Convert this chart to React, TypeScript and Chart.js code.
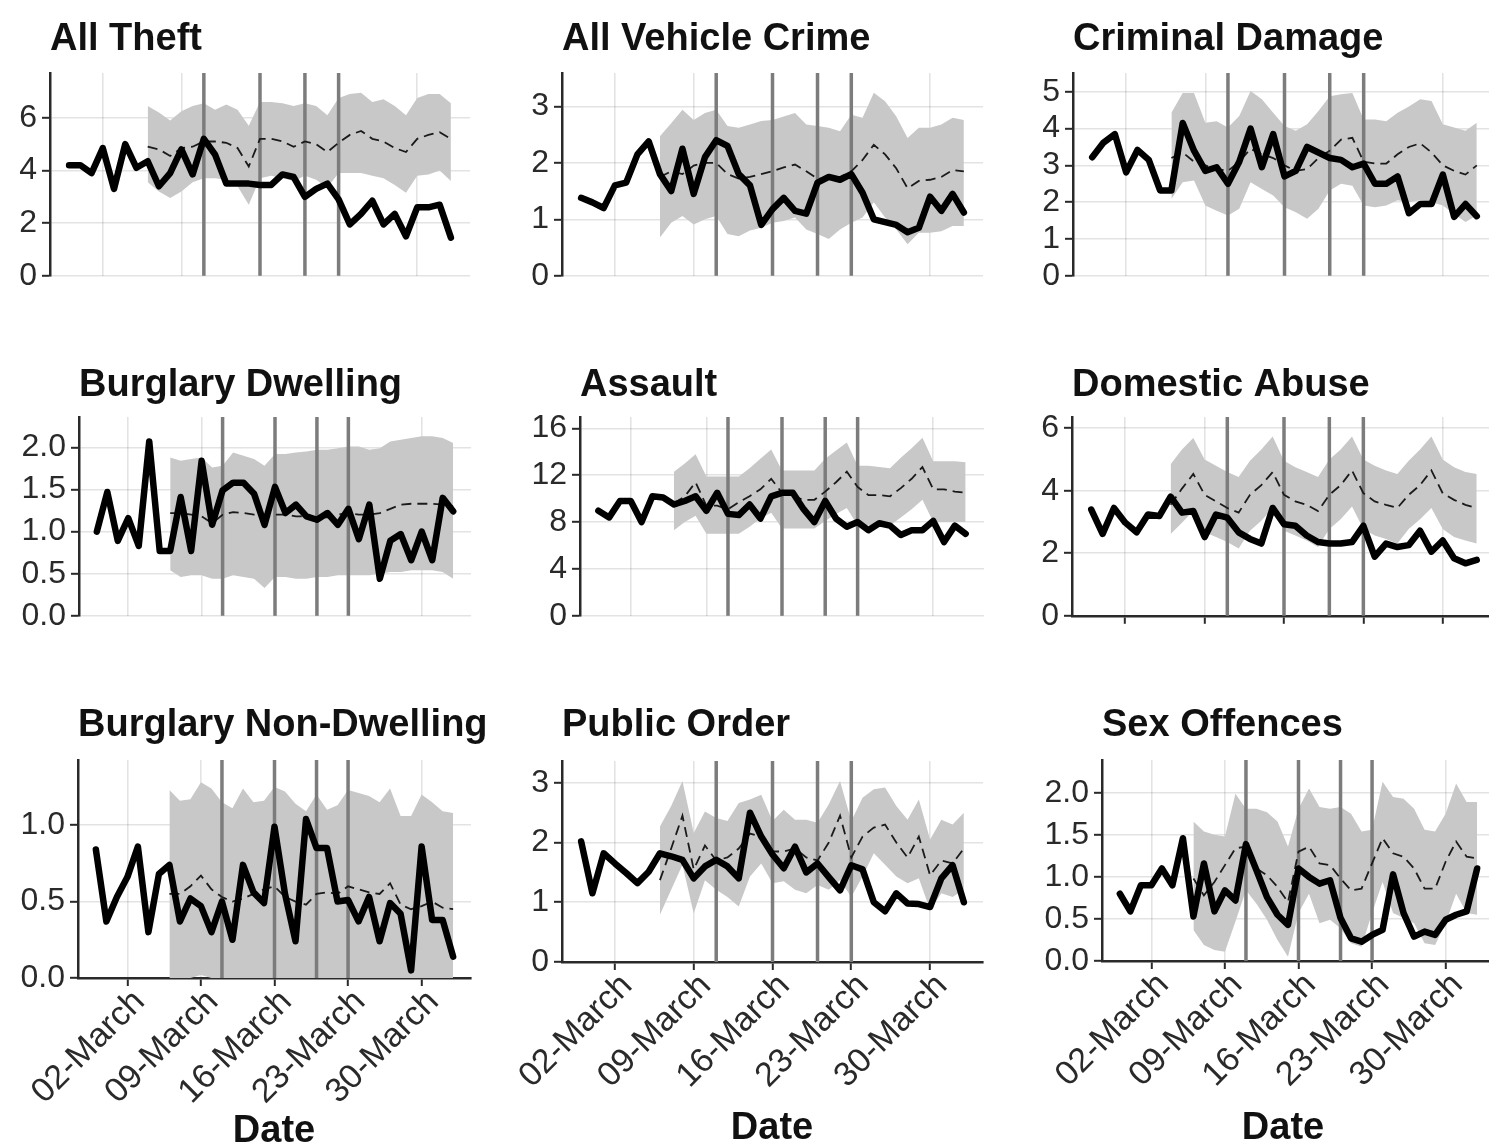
import React, { useEffect, useRef } from "react";
import { Chart, registerables } from "chart.js";

Chart.register(...registerables);

// ---------------- DATA ----------------
const dates = [
  "2020-02-28", "2020-02-29", "2020-03-01", "2020-03-02", "2020-03-03", "2020-03-04", "2020-03-05",
  "2020-03-06", "2020-03-07", "2020-03-08", "2020-03-09", "2020-03-10", "2020-03-11", "2020-03-12",
  "2020-03-13", "2020-03-14", "2020-03-15", "2020-03-16", "2020-03-17", "2020-03-18", "2020-03-19",
  "2020-03-20", "2020-03-21", "2020-03-22", "2020-03-23", "2020-03-24", "2020-03-25", "2020-03-26",
  "2020-03-27", "2020-03-28", "2020-03-29", "2020-03-30", "2020-03-31", "2020-04-01", "2020-04-02",
];
const baselineStart = "2020-03-06";
const interventionDates = ["2020-03-11", "2020-03-16", "2020-03-20", "2020-03-23"];
const xTickDates = ["2020-03-02", "2020-03-09", "2020-03-16", "2020-03-23", "2020-03-30"];
const xTickLabels = ["02-March", "09-March", "16-March", "23-March", "30-March"];
const xAxisTitle = "Date";

const titles = [
  "All Theft", "All Vehicle Crime", "Criminal Damage",
  "Burglary Dwelling", "Assault", "Domestic Abuse",
  "Burglary Non-Dwelling", "Public Order", "Sex Offences",
];

// All Theft
const theftObs = [4.2, 4.2, 3.9, 4.85, 3.3, 5.0, 4.1, 4.35, 3.4, 3.9, 4.8, 3.85, 5.2, 4.6, 3.5, 3.5, 3.5, 3.45, 3.45, 3.85, 3.75, 3.0, 3.3, 3.5, 2.9, 1.95, 2.35, 2.85, 1.95, 2.35, 1.5, 2.6, 2.6, 2.7, 1.45];
const theftExp = [4.9, 4.8, 4.55, 4.85, 4.9, 5.1, 5.1, 5.05, 4.85, 4.15, 5.2, 5.2, 5.1, 4.9, 5.1, 5.0, 4.7, 5.05, 5.35, 5.5, 5.2, 5.1, 4.85, 4.7, 5.2, 5.35, 5.45, 5.2];
const theftHi = [6.45, 6.2, 5.9, 6.25, 6.45, 6.55, 6.3, 6.5, 6.3, 5.7, 6.6, 6.6, 6.55, 6.45, 6.55, 6.45, 6.1, 6.75, 6.9, 6.95, 6.6, 6.7, 6.45, 6.1, 6.75, 6.9, 6.9, 6.55];
const theftLo = [3.55, 3.2, 2.95, 3.2, 3.55, 3.7, 3.7, 3.65, 3.4, 2.7, 3.7, 3.8, 3.7, 3.6, 3.8, 3.65, 3.35, 3.9, 3.9, 3.9, 3.8, 3.7, 3.45, 3.15, 3.8, 3.85, 4.0, 3.6];
const theftYTicks = [0, 2, 4, 6];

// All Vehicle Crime
const vehicleObs = [1.38, 1.3, 1.2, 1.6, 1.65, 2.15, 2.38, 1.8, 1.5, 2.25, 1.45, 2.1, 2.4, 2.3, 1.8, 1.6, 0.9, 1.18, 1.38, 1.15, 1.1, 1.65, 1.75, 1.7, 1.8, 1.47, 1.0, 0.95, 0.9, 0.77, 0.85, 1.4, 1.15, 1.45, 1.12];
const vehicleExp = [1.75, 1.85, 1.8, 1.95, 2.0, 2.0, 1.8, 1.72, 1.75, 1.8, 1.85, 1.92, 1.97, 1.85, 1.72, 1.72, 1.75, 1.85, 2.05, 2.32, 2.15, 1.9, 1.55, 1.68, 1.7, 1.75, 1.87, 1.85];
const vehicleHi = [2.47, 2.7, 2.94, 2.76, 2.88, 2.94, 2.65, 2.62, 2.68, 2.74, 2.76, 2.82, 2.88, 2.68, 2.65, 2.62, 2.56, 2.85, 2.8, 3.24, 3.09, 2.82, 2.44, 2.62, 2.62, 2.68, 2.8, 2.76];
const vehicleLo = [0.68, 0.94, 1.06, 0.91, 1.0, 1.06, 0.74, 0.7, 0.8, 0.85, 0.94, 0.97, 1.03, 0.82, 0.74, 0.65, 0.82, 0.94, 1.03, 1.3, 1.03, 0.82, 0.56, 0.76, 0.76, 0.79, 0.88, 0.88];
const vehicleYTicks = [0, 1, 2, 3];

// Criminal Damage
const damageObs = [3.22, 3.62, 3.85, 2.81, 3.42, 3.15, 2.32, 2.32, 4.15, 3.4, 2.85, 2.95, 2.5, 3.1, 4.0, 2.95, 3.85, 2.7, 2.85, 3.5, 3.35, 3.2, 3.15, 2.95, 3.05, 2.5, 2.5, 2.7, 1.7, 1.95, 1.95, 2.75, 1.6, 1.95, 1.62];
const damageExp = [3.2, 3.35, 3.1, 3.0, 2.9, 2.85, 3.1, 3.45, 3.3, 3.2, 3.0, 2.85, 2.9, 3.2, 3.4, 3.7, 3.75, 3.1, 3.05, 3.05, 3.3, 3.5, 3.6, 3.35, 3.0, 2.85, 2.75, 3.0];
const damageHi = [4.43, 4.97, 4.97, 4.16, 4.2, 4.03, 4.34, 5.02, 4.8, 4.43, 4.07, 3.94, 4.12, 4.48, 4.88, 4.93, 4.97, 4.25, 4.25, 4.2, 4.43, 4.6, 4.8, 4.75, 4.12, 4.03, 3.94, 4.16];
const damageLo = [2.09, 2.54, 2.59, 1.91, 1.77, 1.64, 1.82, 2.54, 2.36, 2.18, 1.86, 1.73, 1.55, 1.82, 2.32, 2.5, 2.45, 1.91, 1.86, 1.91, 2.05, 2.0, 2.05, 2.0, 1.91, 1.68, 1.46, 1.64];
const damageYTicks = [0, 1, 2, 3, 4, 5];

// Burglary Dwelling
const burgDObs = [1.0, 1.47, 0.89, 1.16, 0.83, 2.07, 0.77, 0.77, 1.41, 0.77, 1.84, 1.08, 1.49, 1.58, 1.58, 1.45, 1.08, 1.53, 1.22, 1.32, 1.18, 1.14, 1.22, 1.08, 1.27, 0.91, 1.32, 0.44, 0.89, 0.97, 0.66, 1.0, 0.66, 1.4, 1.24];
const burgDExp = [1.22, 1.22, 1.2, 1.18, 1.1, 1.2, 1.23, 1.22, 1.2, 1.17, 1.2, 1.2, 1.18, 1.18, 1.17, 1.17, 1.2, 1.22, 1.2, 1.2, 1.22, 1.27, 1.32, 1.33, 1.33, 1.33, 1.32, 1.3];
const burgDHi = [1.88, 1.84, 1.86, 1.88, 1.76, 1.78, 1.94, 1.9, 1.86, 1.78, 1.92, 1.92, 1.94, 1.95, 1.97, 1.97, 1.99, 2.01, 2.01, 1.97, 1.99, 2.07, 2.09, 2.11, 2.13, 2.13, 2.11, 2.05];
const burgDLo = [0.54, 0.46, 0.48, 0.48, 0.44, 0.44, 0.48, 0.46, 0.44, 0.33, 0.46, 0.46, 0.44, 0.44, 0.46, 0.46, 0.48, 0.48, 0.48, 0.48, 0.5, 0.52, 0.52, 0.54, 0.54, 0.54, 0.52, 0.44];
const burgDYTicks = [0, 0.5, 1.0, 1.5, 2.0];

// Assault
const assaultObs = [8.97, 8.4, 9.8, 9.8, 8.0, 10.2, 10.1, 9.5, 9.8, 10.2, 8.97, 10.5, 8.7, 8.6, 9.5, 8.3, 10.2, 10.5, 10.5, 9.1, 8.0, 9.8, 8.3, 7.6, 8.0, 7.3, 7.9, 7.7, 6.9, 7.3, 7.3, 8.1, 6.3, 7.7, 7.0];
const assaultExp = [9.6, 10.2, 11.4, 9.4, 9.4, 9.1, 9.7, 10.2, 10.8, 11.7, 10.5, 10.2, 9.9, 9.9, 10.6, 11.4, 12.3, 11.0, 10.3, 10.3, 10.2, 10.9, 11.7, 12.7, 10.8, 10.8, 10.6, 10.5];
const assaultHi = [12.3, 13.0, 13.8, 11.9, 11.9, 11.9, 11.9, 12.6, 13.4, 14.2, 12.4, 12.4, 12.4, 12.4, 13.4, 14.1, 14.8, 12.8, 12.8, 12.7, 12.6, 13.5, 14.3, 15.2, 13.2, 13.2, 13.2, 13.1];
const assaultLo = [7.3, 8.0, 8.55, 7.0, 7.0, 7.0, 7.0, 7.6, 8.3, 8.8, 7.45, 7.45, 7.45, 7.45, 8.1, 8.7, 9.2, 7.7, 7.7, 7.6, 7.7, 8.4, 9.1, 9.9, 8.0, 8.0, 8.0, 8.0];
const assaultYTicks = [0, 4, 8, 12, 16];

// Domestic Abuse
const domesticObs = [3.4, 2.62, 3.45, 2.98, 2.67, 3.24, 3.19, 3.81, 3.3, 3.35, 2.52, 3.24, 3.14, 2.67, 2.46, 2.31, 3.45, 2.93, 2.88, 2.57, 2.36, 2.31, 2.31, 2.36, 2.88, 1.89, 2.31, 2.2, 2.26, 2.72, 2.05, 2.41, 1.84, 1.68, 1.79];
const domesticExp = [3.55, 4.07, 4.54, 3.87, 3.66, 3.45, 3.3, 3.87, 4.18, 4.6, 3.87, 3.66, 3.55, 3.35, 3.87, 4.18, 4.65, 3.92, 3.66, 3.55, 3.45, 3.87, 4.18, 4.65, 3.92, 3.71, 3.55, 3.45];
const domesticHi = [4.85, 5.32, 5.69, 5.0, 4.8, 4.6, 4.44, 4.96, 5.32, 5.74, 4.96, 4.75, 4.6, 4.44, 5.0, 5.32, 5.74, 5.0, 4.8, 4.65, 4.54, 4.96, 5.32, 5.74, 5.0, 4.75, 4.6, 4.54];
const domesticLo = [2.62, 2.98, 3.35, 2.67, 2.52, 2.36, 2.15, 2.72, 3.04, 3.45, 2.72, 2.57, 2.41, 2.2, 2.78, 3.09, 3.5, 2.78, 2.57, 2.46, 2.31, 2.78, 3.09, 3.45, 2.78, 2.52, 2.41, 2.31];
const domesticYTicks = [0, 2, 4, 6];

// Burglary Non-Dwelling
const burgNObs = [0.84, 0.37, 0.53, 0.66, 0.86, 0.3, 0.68, 0.74, 0.37, 0.52, 0.47, 0.3, 0.5, 0.25, 0.74, 0.56, 0.49, 0.99, 0.55, 0.24, 1.04, 0.85, 0.85, 0.5, 0.51, 0.37, 0.53, 0.24, 0.49, 0.42, 0.05, 0.86, 0.38, 0.38, 0.14];
const burgNExp = [0.55, 0.55, 0.6, 0.67, 0.58, 0.53, 0.5, 0.52, 0.55, 0.58, 0.6, 0.53, 0.5, 0.48, 0.55, 0.56, 0.55, 0.6, 0.58, 0.56, 0.55, 0.62, 0.48, 0.45, 0.47, 0.5, 0.46, 0.45];
const burgNHi = [1.23, 1.16, 1.17, 1.28, 1.24, 1.15, 1.11, 1.24, 1.15, 1.16, 1.25, 1.22, 1.14, 1.09, 1.2, 1.1, 1.13, 1.23, 1.21, 1.19, 1.15, 1.24, 1.06, 1.06, 1.2, 1.15, 1.09, 1.08];
const burgNLo = [0, 0, 0, 0.02, 0, 0, 0, 0, 0, 0, 0, 0, 0, 0, 0, 0, 0, 0, 0, 0, 0, 0, 0, 0, 0, 0, 0, 0];
const burgNYTicks = [0, 0.5, 1.0];

// Public Order
const publicObs = [2.02, 1.15, 1.82, 1.65, 1.49, 1.32, 1.51, 1.82, 1.77, 1.71, 1.4, 1.6, 1.71, 1.6, 1.4, 2.5, 2.1, 1.8, 1.57, 1.93, 1.5, 1.65, 1.42, 1.2, 1.62, 1.55, 1.0, 0.85, 1.15, 0.98, 0.97, 0.92, 1.4, 1.62, 1.0];
const publicExp = [1.37, 1.9, 2.45, 1.55, 1.95, 1.7, 1.75, 1.9, 2.15, 2.1, 1.85, 1.85, 1.9, 1.75, 1.7, 2.0, 2.45, 1.75, 2.1, 2.25, 2.3, 2.0, 1.75, 2.1, 1.45, 1.7, 1.65, 1.9];
const publicHi = [2.27, 2.61, 3.03, 2.16, 2.52, 2.41, 2.36, 2.66, 2.72, 2.8, 2.36, 2.55, 2.38, 2.38, 2.33, 2.64, 3.03, 2.36, 2.75, 2.89, 2.92, 2.61, 2.38, 2.72, 2.05, 2.38, 2.3, 2.5];
const publicLo = [0.79, 1.21, 1.63, 0.81, 1.37, 1.21, 1.09, 0.93, 1.43, 1.65, 1.32, 1.35, 1.21, 1.15, 1.29, 1.21, 1.37, 1.09, 1.43, 1.82, 1.63, 1.43, 1.32, 1.4, 0.87, 1.15, 1.09, 1.21];
const publicYTicks = [0, 1, 2, 3];

// Sex Offences
const sexObs = [0.8, 0.59, 0.9, 0.9, 1.1, 0.9, 1.46, 0.53, 1.16, 0.59, 0.84, 0.72, 1.39, 1.08, 0.76, 0.55, 0.43, 1.1, 1.0, 0.92, 0.96, 0.51, 0.27, 0.23, 0.31, 0.37, 1.03, 0.57, 0.29, 0.35, 0.31, 0.49, 0.55, 0.59, 1.1];
const sexExp = [0.98, 0.78, 0.94, 1.14, 1.34, 1.36, 1.1, 1.02, 0.88, 0.7, 1.3, 1.36, 1.16, 1.14, 0.98, 0.84, 0.86, 1.16, 1.46, 1.28, 1.24, 1.1, 0.86, 0.86, 1.18, 1.42, 1.24, 1.22];
const sexHi = [1.66, 1.54, 1.5, 1.48, 1.99, 1.81, 1.81, 1.77, 1.66, 1.36, 1.81, 2.05, 1.83, 1.81, 1.83, 1.75, 1.54, 1.56, 2.13, 1.95, 1.93, 1.81, 1.56, 1.54, 1.75, 2.11, 1.89, 1.89];
const sexLo = [0.37, 0.19, 0.13, 0.11, 0.47, 0.84, 0.68, 0.49, 0.25, 0.05, 0.57, 0.8, 0.45, 0.49, 0.39, 0.21, 0.17, 0.57, 0.94, 0.57, 0.51, 0.45, 0.21, 0.19, 0.45, 0.8, 0.57, 0.55];
const sexYTicks = [0, 0.5, 1.0, 1.5, 2.0];

// ---------------- LAYOUT / STYLE ----------------
const FONT = "'Liberation Sans', Arial, Helvetica, sans-serif";
const GRID = "rgba(0,0,0,0.11)";
const AXIS = "#2a2a2a";
const BAND = "#c8c8c8";
const VLINE = "#7c7c7c";
const X_MIN = -2.7;
const X_MAX = 34.7;
const X_LABEL_H = 140;

const dayNum = (s: string) => (Date.parse(s) - Date.parse("2020-03-01")) / 86400000 + 1;

type Layout = {
  cx: number; cy: number; w: number; h: number;
  L: number; R: number; T: number; B: number;
  ymax: number; dec: number; titleBase: number;
  xAxis: boolean; xLabels: boolean; dateX?: number; dateBase?: number;
};

const layouts: Layout[] = [
  { cx: 0, cy: 0, w: 496, h: 300, L: 50, R: 470, T: 73, B: 277, ymax: 7.7, dec: 0, titleBase: 50, xAxis: false, xLabels: false },
  { cx: 496, cy: 0, w: 504, h: 300, L: 562, R: 983, T: 73, B: 277, ymax: 3.59, dec: 0, titleBase: 50, xAxis: false, xLabels: false },
  { cx: 1000, cy: 0, w: 500, h: 300, L: 1073, R: 1496, T: 73, B: 277, ymax: 5.51, dec: 0, titleBase: 50, xAxis: false, xLabels: false },
  { cx: 0, cy: 340, w: 496, h: 300, L: 79, R: 471, T: 417, B: 620, ymax: 2.36, dec: 1, titleBase: 396, xAxis: false, xLabels: false },
  { cx: 496, cy: 340, w: 504, h: 300, L: 580, R: 984, T: 417, B: 620, ymax: 16.97, dec: 0, titleBase: 396, xAxis: false, xLabels: false },
  { cx: 1000, cy: 340, w: 500, h: 300, L: 1072, R: 1496, T: 417, B: 620, ymax: 6.36, dec: 0, titleBase: 396, xAxis: true, xLabels: false },
  { cx: 0, cy: 680, w: 496, h: 467, L: 78, R: 471, T: 760, B: 978, ymax: 1.426, dec: 1, titleBase: 736, xAxis: true, xLabels: true, dateX: 274, dateBase: 1142 },
  { cx: 496, cy: 680, w: 504, h: 467, L: 562, R: 983, T: 761, B: 962, ymax: 3.365, dec: 0, titleBase: 736, xAxis: true, xLabels: true, dateX: 772, dateBase: 1139 },
  { cx: 1000, cy: 680, w: 500, h: 467, L: 1102, R: 1495, T: 760, B: 961, ymax: 2.39, dec: 1, titleBase: 736, xAxis: true, xLabels: true, dateX: 1283, dateBase: 1139 },
];

const seriesSets = [
  [theftObs, theftExp, theftLo, theftHi, theftYTicks],
  [vehicleObs, vehicleExp, vehicleLo, vehicleHi, vehicleYTicks],
  [damageObs, damageExp, damageLo, damageHi, damageYTicks],
  [burgDObs, burgDExp, burgDLo, burgDHi, burgDYTicks],
  [assaultObs, assaultExp, assaultLo, assaultHi, assaultYTicks],
  [domesticObs, domesticExp, domesticLo, domesticHi, domesticYTicks],
  [burgNObs, burgNExp, burgNLo, burgNHi, burgNYTicks],
  [publicObs, publicExp, publicLo, publicHi, publicYTicks],
  [sexObs, sexExp, sexLo, sexHi, sexYTicks],
];

function Panel({ idx }: { idx: number }) {
  const ref = useRef<HTMLCanvasElement>(null);
  const lay = layouts[idx];
  useEffect(() => {
    const canvas = ref.current;
    if (!canvas) return;
    const [obs, exp, lo, hi, yTicks] = seriesSets[idx];
    const bandDates = dates.filter((d) => d >= baselineStart);
    const obsPts = dates.map((d, i) => ({ x: dayNum(d), y: obs[i] }));
    const expPts = bandDates.map((d, i) => ({ x: dayNum(d), y: exp[i] }));
    const loPts = bandDates.map((d, i) => ({ x: dayNum(d), y: lo[i] }));
    const hiPts = bandDates.map((d, i) => ({ x: dayNum(d), y: hi[i] }));
    const xAxisH = lay.xLabels ? X_LABEL_H : 0;

    const decorPlugin = {
      id: "decor" + idx,
      afterDatasetDraw(chart: any, args: any) {
        if (args.index !== 1) return;
        const { ctx, chartArea } = chart;
        const xs = chart.scales.x;
        ctx.save();
        ctx.strokeStyle = VLINE;
        ctx.lineWidth = 3.5;
        interventionDates.forEach((d) => {
          const px = xs.getPixelForValue(dayNum(d));
          ctx.beginPath();
          ctx.moveTo(px, chartArea.top);
          ctx.lineTo(px, chartArea.bottom);
          ctx.stroke();
        });
        ctx.restore();
      },
      afterDraw(chart: any) {
        const { ctx } = chart;
        ctx.save();
        ctx.fillStyle = "#111";
        ctx.font = `bold 38px ${FONT}`;
        ctx.textAlign = "left";
        ctx.textBaseline = "alphabetic";
        ctx.fillText(titles[idx], lay.L - lay.cx, lay.titleBase - lay.cy);
        if (lay.dateX !== undefined && lay.dateBase !== undefined) {
          ctx.textAlign = "center";
          ctx.fillText(xAxisTitle, lay.dateX - lay.cx, lay.dateBase - lay.cy);
        }
        ctx.restore();
      },
    };

    const tickFont = { family: FONT, size: 32 };
    const chart = new Chart(canvas, {
      type: "line",
      data: {
        datasets: [
          { data: loPts, borderWidth: 0, pointRadius: 0, fill: false, order: 3, borderColor: "rgba(0,0,0,0)" },
          { data: hiPts, borderWidth: 0, pointRadius: 0, fill: "-1", backgroundColor: BAND, order: 2, borderColor: "rgba(0,0,0,0)" },
          { data: expPts, borderWidth: 1.8, borderDash: [10, 6], borderColor: "#1a1a1a", pointRadius: 0, fill: false, order: 1 },
          { data: obsPts, borderWidth: 6.5, borderColor: "#000", pointRadius: 0, fill: false, order: 0, borderJoinStyle: "round", borderCapStyle: "round", clip: false } as any,
        ],
      },
      options: {
        responsive: false,
        animation: false,
        devicePixelRatio: 1,
        parsing: false as any,
        normalized: true,
        layout: {
          padding: {
            left: 0,
            top: lay.T - lay.cy,
            right: lay.cx + lay.w - lay.R,
            bottom: lay.cy + lay.h - lay.B - xAxisH,
          },
        },
        elements: { line: { tension: 0 } },
        plugins: { legend: { display: false }, tooltip: { enabled: false }, title: { display: false } },
        scales: {
          x: {
            type: "linear",
            min: X_MIN,
            max: X_MAX,
            afterBuildTicks: (s: any) => {
              s.ticks = xTickDates.map((d) => ({ value: dayNum(d) }));
            },
            afterFit: (s: any) => {
              s.height = xAxisH;
            },
            ticks: {
              display: lay.xLabels,
              autoSkip: false,
              minRotation: 45,
              maxRotation: 45,
              padding: -4,
              labelOffset: 12,
              color: "#2a2a2a",
              font: { family: FONT, size: 34 },
              callback: (_v: any, i: number) => xTickLabels[i],
            },
            grid: {
              color: GRID,
              lineWidth: 1.6,
              drawTicks: lay.xAxis,
              tickLength: 8,
              tickColor: AXIS,
              tickWidth: 2,
            },
            border: { display: lay.xAxis, color: AXIS, width: 2.5 },
          },
          y: {
            type: "linear",
            min: 0,
            max: lay.ymax,
            afterBuildTicks: (s: any) => {
              s.ticks = (yTicks as number[]).map((v) => ({ value: v }));
            },
            afterFit: (s: any) => {
              s.width = lay.L - lay.cx;
            },
            ticks: {
              autoSkip: false,
              color: "#2a2a2a",
              font: tickFont,
              padding: 5,
              callback: (v: any) => Number(v).toFixed(lay.dec),
            },
            grid: {
              color: GRID,
              lineWidth: 1.6,
              drawTicks: true,
              tickLength: 8,
              tickColor: AXIS,
              tickWidth: 2,
            },
            border: { display: true, color: AXIS, width: 2.5 },
          },
        },
      } as any,
      plugins: [decorPlugin],
    });
    return () => chart.destroy();
  }, [idx]);

  return (
    <canvas
      ref={ref}
      width={lay.w}
      height={lay.h}
      style={{ position: "absolute", left: lay.cx, top: lay.cy, width: lay.w, height: lay.h }}
    />
  );
}

export default function App() {
  return (
    <div
      style={{
        position: "fixed",
        left: 0,
        top: 0,
        width: 1489,
        height: 1147,
        overflow: "hidden",
        background: "#fff",
      }}
    >
      {layouts.map((_, i) => (
        <Panel key={i} idx={i} />
      ))}
    </div>
  );
}
